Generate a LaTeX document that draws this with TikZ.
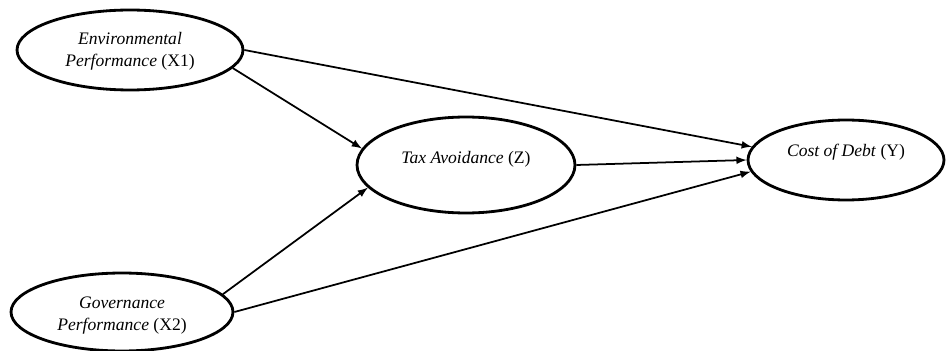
\documentclass[tikz,border=0pt]{standalone}
\usepackage{fontspec}
\setmainfont{Liberation Serif}
\usetikzlibrary{shapes,shapes.geometric}

\tikzset{
  latent/.style={ellipse, draw, line width=1.6pt, inner sep=0pt},
  path/.style={-latex, line width=1pt},
  lbl/.style={align=center, font=\fontsize{10}{12.5}\selectfont}
}

\begin{document}
\begin{tikzpicture}[x=0.02cm,y=-0.02cm]
      \useasboundingbox (0,0) rectangle (946,351);

      \node [latent, minimum width=4.52cm, minimum height=1.6cm] (xone) at (130,50) {};
      \node [latent, minimum width=4.44cm, minimum height=1.56cm] (xtwo) at (122,312) {};
      \node [latent, minimum width=4.36cm, minimum height=1.92cm] (zmed) at (466,165) {};
      \node [latent, minimum width=3.92cm, minimum height=1.6cm] (ydep) at (846,160) {};

      \node [lbl] (xonetext) at (130,51) {\textit{Environmental}\\\textit{Performance} (X1)};
      \node [lbl] (xtwotext) at (122,316) {\textit{Governance}\\\textit{Performance} (X2)};
      \node [lbl] (zmedtext) at (466,159) {\textit{Tax Avoidance} (Z)};
      \node [lbl] (ydeptext) at (846,152) {\textit{Cost of Debt} (Y)};

      \draw[path] (xone.east) -- (ydep.172);
      \draw[path] (xone.-10) -- (zmed.171);
      \draw[path] (xtwo.10) -- (zmed.193);
      \draw[path] (xtwo.east) -- (ydep.187);
      \draw[path] (zmed.east) -- (ydep.west);
\end{tikzpicture}
\end{document}
